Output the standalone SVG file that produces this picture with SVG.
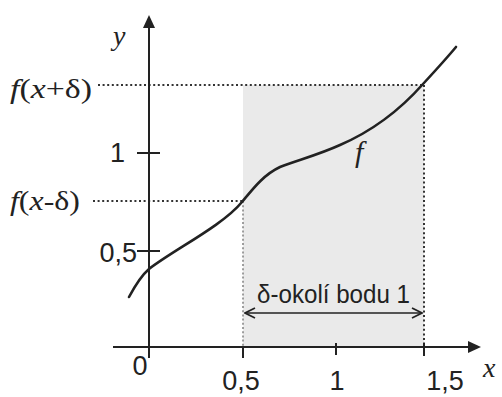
<svg xmlns="http://www.w3.org/2000/svg" width="502" height="397" viewBox="0 0 502 397">
<style>
.ax{stroke:#222;stroke-width:2;fill:none}
.dot{stroke:#333;stroke-width:2;stroke-dasharray:2 2.6;fill:none}
.dotl{stroke:#888;stroke-width:1.6;stroke-dasharray:2 2.2;fill:none}
.num{font-family:"Liberation Sans",Arial,sans-serif;font-size:27px;fill:#222}
.it{font-family:"Liberation Serif","Times New Roman",serif;font-style:italic;fill:#222}
.ser{font-family:"Liberation Serif","Times New Roman",serif;fill:#222;font-size:27px}
</style>
<defs>
<marker id="open" markerWidth="12" markerHeight="12" refX="11" refY="6" orient="auto-start-reverse" markerUnits="userSpaceOnUse">
<path d="M1,1 L11,6 L1,11" fill="none" stroke="#222" stroke-width="1.8"/>
</marker>
</defs>
<rect width="502" height="397" fill="#fff"/>
<g id="shade"><rect x="243" y="85" width="181" height="262" fill="#eaeaea"/></g>
<g id="connectors">
<path class="dot" d="M98,85 H424"/>
<path class="dot" d="M424,85 V347"/>
<path class="dot" d="M93,201 H243"/>
<path class="dotl" d="M243,201 V347"/>
<path class="ax" d="M149,27 V358"/>
<path d="M149,15 L143,28 L155,28 Z" fill="#222"/>
<path class="ax" d="M113,347 H470"/>
<path d="M481,347 L468,341 L468,353 Z" fill="#222"/>
<path class="ax" d="M137,153 H160 M137,251 H160 M243,347 V358 M336,343 V355 M424,343 V356"/>
<path d="M245,313 H422" stroke="#222" stroke-width="1.6" fill="none" marker-start="url(#open)" marker-end="url(#open)"/>
<path id="curve" d="M129,297 C136,284 142,275 149,269 C175,249 222,226 242,202 C252,190 263,175 280,167 C298,160 318,155 340,145 C370,132 400,110 423,84 C435,71 446,59 456,47" fill="none" stroke="#222" stroke-width="2.6" stroke-linecap="round"/>
</g>
<g id="labels">
<text class="num" x="125" y="162" text-anchor="end">1</text>
<text class="num" x="137" y="262" text-anchor="end">0,5</text>
<text class="num" x="140" y="375" text-anchor="middle">0</text>
<text class="num" x="241" y="390" text-anchor="middle">0,5</text>
<text class="num" x="337" y="390" text-anchor="middle">1</text>
<text class="num" x="445" y="390" text-anchor="middle">1,5</text>
<text class="it" x="483" y="377" font-size="28">x</text>
<text class="it" x="113" y="45" font-size="28">y</text>
<text class="it" x="355" y="162" font-size="30">f</text>
<text class="ser" x="10" y="98" textLength="82" lengthAdjust="spacingAndGlyphs"><tspan font-style="italic">f</tspan>(<tspan font-style="italic">x</tspan>+δ)</text>
<text class="ser" x="10" y="210" textLength="70" lengthAdjust="spacingAndGlyphs"><tspan font-style="italic">f</tspan>(<tspan font-style="italic">x</tspan>-δ)</text>
<text x="257" y="303" font-family="'Liberation Sans',Arial,sans-serif" font-size="26" fill="#222" textLength="153" lengthAdjust="spacingAndGlyphs">δ-okolí bodu 1</text>
</g>
</svg>
